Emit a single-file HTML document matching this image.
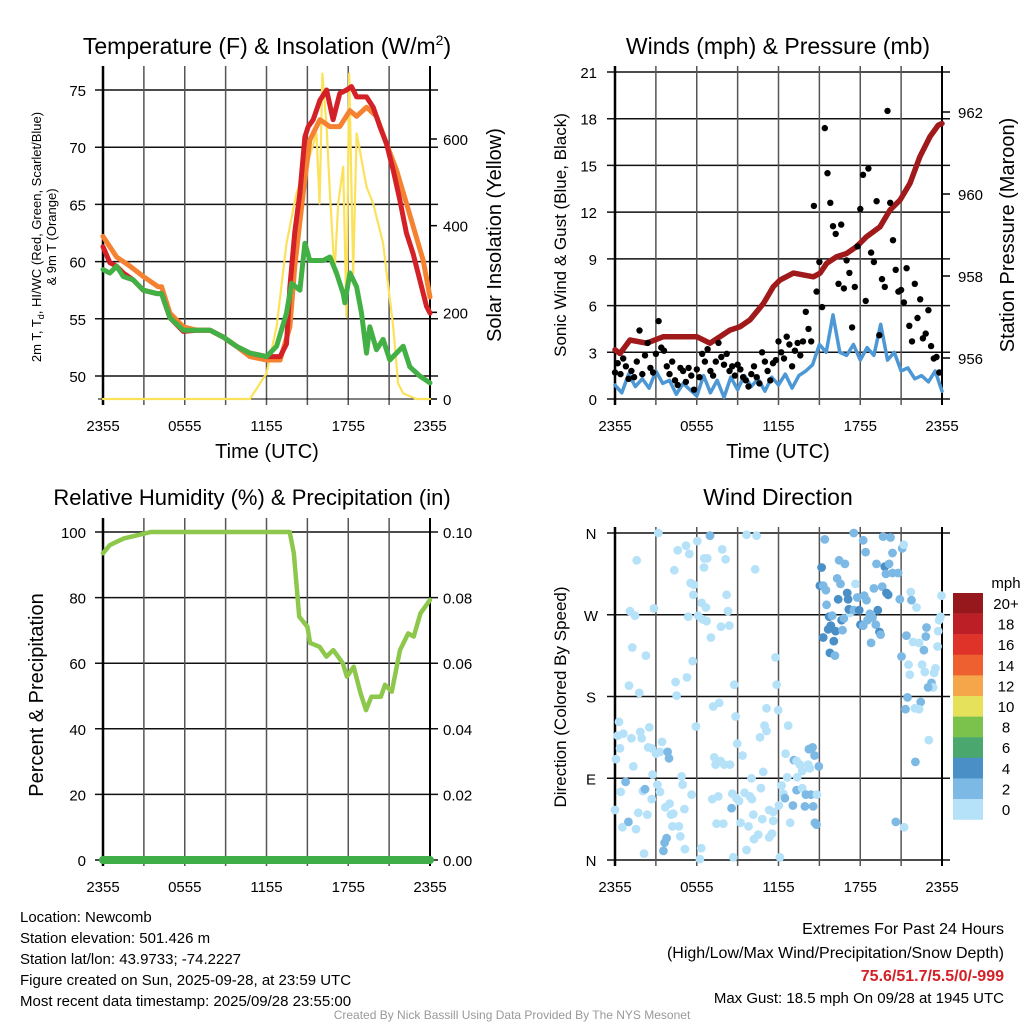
<!DOCTYPE html>
<html><head><meta charset="utf-8"><title>Newcomb Meteogram</title>
<style>
html,body{margin:0;padding:0;background:#fff;}
#wrap{position:relative;width:1024px;height:1024px;overflow:hidden;font-family:"Liberation Sans",Arial,sans-serif;}
svg text{font-family:"Liberation Sans",Arial,sans-serif;fill:#000;}
</style></head>
<body>
<div id="wrap">
<svg id="svg" width="1024" height="1024" viewBox="0 0 1024 1024"></svg>
</div>
<script>
// ---------- DATA ----------
const timeTicks = ["2355","0555","1155","1755","2355"];
const tempTicks = [50,55,60,65,70,75];
const solarTicks = [0,200,400,600];
const windTicks = [0,3,6,9,12,15,18,21];
const presTicks = [956,958,960,962];
const rhTicks = [0,20,40,60,80,100];
const precipTicks = ["0.00","0.02","0.04","0.06","0.08","0.10"];
const dirTicks = ["N","E","S","W","N"];

const redT = [0,0.51,1,1.49,2.22,2.96,3.94,4.3,4.91,5.89,6.87,7.85,8.83,9.8,10.78,12,13,13.47,13.72,14.08,14.45,14.82,15.06,15.43,15.92,16.41,16.89,17.38,17.87,18.24,18.61,19.34,19.83,20.32,20.81,21.3,21.78,22.27,22.76,23.25,23.74,24];
const redV = [61.3,59.9,59.6,59.0,58.4,57.5,57.2,57.2,55.1,53.9,54.0,54.0,53.4,52.6,52.0,51.7,51.7,52.8,57.8,62.6,66.0,70.9,71.8,72.4,74.1,75.0,72.4,74.7,75.0,75.3,74.4,74.4,73.5,71.8,70.3,68.0,65.4,62.5,60.7,58.4,56.1,55.5];
const orangeT = [0,1,1.98,2.96,4.06,4.3,4.91,5.89,6.87,7.85,8.83,9.8,10.78,12,13,13.72,14.08,14.69,15.18,15.92,16.65,17.38,18.12,18.61,19.34,20.07,20.81,21.54,22.27,22.76,23.5,24];
const orangeV = [62.2,60.4,59.6,58.7,57.8,57.8,55.5,54.3,54.0,54.0,53.4,52.6,51.7,51.4,51.4,54.3,59.6,66.0,70.6,72.4,71.8,71.8,73.2,72.7,73.5,72.7,70.3,68.0,65.1,63.1,60.1,56.9];
const greenT = [0,0.51,1,1.49,2.22,2.96,3.94,4.3,4.91,5.89,6.87,7.85,8.83,9.8,10.78,12,12.74,13.47,13.84,14.45,14.82,15.18,16.16,16.65,17.14,17.63,17.75,18.12,18.61,18.97,19.34,19.58,20.07,20.56,21.05,21.54,22.03,22.52,23.25,24];
const greenV = [59.3,59.0,59.6,58.7,58.4,57.5,57.2,57.2,55.1,54.0,54.0,54.0,53.4,52.6,52.0,51.7,52.6,55.5,58.1,57.5,61.6,60.1,60.1,60.4,59.0,57.2,56.4,59.0,57.8,55.5,52.0,54.3,52.3,53.2,51.4,52.0,52.6,50.8,50.0,49.4];
const solarT = [0,10.78,12,12.74,13.47,14.2,14.93,15.3,15.67,15.9,16.1,16.41,16.65,17.0,17.26,17.63,17.87,18.07,18.36,18.61,18.85,19.34,19.83,20.56,21.3,21.66,22.03,23,24];
const solarV = [0,0,59,167,359,475,536,574,613,451,751,628,475,290,451,536,190,751,290,613,574,490,451,359,167,36,13,0,0];

const presT = [0,0.37,1.1,2.32,3.55,4.77,6.0,6.97,7.71,8.44,9.17,9.91,10.89,11.62,12.11,13.09,14.56,15.05,15.54,16.27,17.0,17.74,18.47,19.45,20.18,20.92,21.65,22.38,23.12,23.73,24];
const presV = [956.2,956.11,956.44,956.36,956.52,956.52,956.52,956.36,956.52,956.68,956.76,956.93,957.33,957.74,957.9,958.07,957.98,958.07,958.31,958.47,958.55,958.72,958.96,959.2,959.61,959.85,960.26,960.91,961.4,961.68,961.72];
const sonicV = [0.9,0.4,1.6,0.8,1.3,0.7,1.8,1.0,1.2,0.3,1.0,0.6,0.2,1.5,0.4,1.2,0.1,1.4,0.6,1.5,0.8,1.3,0.5,1.4,0.9,1.6,0.7,1.5,1.8,2.2,3.5,3.0,5.4,3.0,2.8,3.5,2.5,3.3,2.8,4.8,2.5,3.0,1.8,2.0,1.3,1.5,1.1,1.8,0.5];
const gustV = [1.7,2.3,1.6,2.6,2.1,1.3,1.8,1.4,2.4,4.4, 1.6,2.8,3.6,2.0,1.7,2.9,5.0,3.3,3.1,2.1, 1.6,2.4,1.2,0.9,2.0,1.8,1.1,2.0,1.5,0.6, 1.9,1.4,2.9,2.4,3.2,1.8,1.5,2.4,3.6,2.7, 2.2,2.9,1.8,2.1,1.5,2.2,1.9,1.4,1.2,0.8, 1.6,2.1,1.4,1.0,3.0,2.4,1.8,1.2,2.3,2.5, 3.7,3.0,2.6,4.0,3.5,2.1,3.1,3.6,2.8,3.7, 5.6,4.5,3.7,12.4,6.9,8.8,5.9,17.4,14.5,12.6, 11.1,10.6,7.4,11.2,7.1,8.9,8.1,4.6,7.2,9.8, 12.2,14.4,6.3,14.8,9.4,8.8,12.7,4.1,7.7,7.2, 18.5,12.6,10.2,8.3,6.9,7.0,6.2,8.4,4.7,3.7, 7.4,5.2,6.4,3.9,4.2,5.7,3.4,2.6,2.7,1.7];

const rhT = [0,0.5,1,1.5,2.5,3.5,6,9,12,13.7,14.0,14.3,14.4,15.0,15.2,15.9,16.4,16.9,17.6,17.9,18.4,18.9,19.3,19.7,20.4,20.7,21.2,21.8,22.4,22.8,23.3,24];
const rhV = [93.5,96,97,98,99,100,100,100,100,100,93.6,79.3,74.2,71.1,66.2,65.0,62.0,64.0,60.0,55.9,58.9,50.9,45.7,49.8,49.8,53.4,51.3,64.0,69.1,68.1,75.2,79.3];
const precipV = [0,0,0,0,0];

const dirT = [3.18,6.97,9.66,10.39,1.59,4.6,5.21,5.45,6.04,4.35,6.55,6.77,6.53,7.87,8.12,10.29,5.55,5.79,5.75,6.36,6.67,8.19,8.29,2.86,1.1,1.47,5.38,6.11,6.43,6.72,7.78,8.39,7.04,1.27,2.27,5.7,11.78,1.03,1.78,4.45,5.28,4.52,8.75,11.86,7.21,7.65,8.85,11.12,11.98,0.29,0.61,0.2,1.2,1.86,1.96,2.52,5.94,10.98,11.12,12.71,10.64,0.37,2.44,2.69,3.01,3.45,3.3,3.86,3.96,8.97,9.36,0.07,1.34,2.76,4.89,7.29,7.38,7.75,8.02,8.44,10.02,10.88,12.52,13.13,13.33,13.57,13.74,14.18,14.3,14.23,14.5,14.65,14.96,0.78,0.42,2.05,2.2,2.69,3.11,3.3,4.96,5.62,7.14,7.58,8.61,8.92,9.1,9.51,9.9,10.05,10.71,12.22,12.64,13.37,12.35,12.47,13.33,13.74,14.01,14.38,14.82,0,0.98,0.54,1.54,1.71,2.37,3.69,4.01,4.11,4.28,5.09,4.21,4.69,4.79,3.79,3.64,3.55,5.13,2.13,6.33,6.23,7.46,7.95,8.56,9.22,9.8,10.15,10.2,9.66,8.68,10.51,10.81,11.32,11.61,11.61,11.32,11.52,12.03,12.1,12.86,13.06,13.94,14.55,14.67,14.79,
15.4,15.16,15.04,15.28,15.48,15.53,15.72,15.94,15.65,15.84,16.19,16.7,15.28,16.06,15.77,16.14,16.45,16.87,16.31,16.55,16.38,17.04,17.11,16.63,16.8,17.24,17.16,17.53,17.65,17.53,18.22,18.39,17.78,17.92,18.02,18.22,18.29,18.46,18.7,18.53,18.9,18.8,19.0,19.14,19.29,19.41,19.49,19.19,19.61,19.8,19.93,20.05,20.12,19.68,20.22,20.37,20.37,19.88,20.78,20.9,21.08,21.2,21.71,21.76,22.13,21.39,21.88,22.32,22.86,22.81,23.72,23.79,23.89,23.96,23.67,22.67,21.03,21.54,21.64,22.54,22.74,23.52,23.42,23.23,23.35,22.98,21.47,22.44,21.32,22.0,22.32,23.03,22.05,20.61,21.22];
const dirDeg = [360,357,358,357,330,341,346,337,351,319,332,332,322,342,331,320,305,303,292,283,278,292,274,277,274,269,268,269,265,263,257,258,245,234,225,219,223,192,184,196,201,181,193,193,169,173,158,167,165,152,139,137,134,141,134,146,147,148,142,148,135,123,124,123,117,130,119,119,112,128,115,111,103,94,92,113,105,109,105,105,90,97,117,110,109,105,98,105,101,122,124,115,103,86,75,76,78,67,83,75,83,72,67,70,73,68,65,74,70,67,79,82,91,91,73,68,77,79,72,72,72,55,42,36,34,52,50,58,62,50,51,56,37,37,26,24,19,10,12,7,13,1,40,40,57,41,37,50,23,11,3,28,45,55,53,43,25,29,60,3,41,60,59,59,41,39,
353,322,302,302,297,281,268,269,254,258,252,253,245,241,228,225,330,326,310,304,287,294,287,264,266,272,276,275,304,360,352,339,289,275,259,258,291,286,271,264,267,239,299,259,275,251,248,326,301,323,294,292,326,356,355,338,316,315,316,287,343,347,295,286,278,247,240,239,256,246,252,264,268,291,235,231,224,215,204,215,207,211,206,195,190,190,179,174,166,167,166,132,108,42,36];
const dirSpd = [1,3,1,1,1,1,1,1,1,1,1,1,1,1,1,1,1,1,1,1,1,1,1,1,1,1,1,1,1,1,1,1,1,1,1,1,1,1,1,1,1,1,1,1,1,1,1,1,1,1,1,1,1,1,1,1,1,1,1,1,1,1,1,1,1,1,1,3,3,1,1,1,1,1,1,1,1,1,1,1,1,1,1,3,1,1,1,1,1,3,3,3,3,3,1,1,3,1,1,1,1,1,1,1,1,1,1,1,1,1,1,1,1,1,1,3,3,1,3,3,1,1,3,1,1,1,1,1,1,1,1,1,1,1,1,3,3,3,1,1,1,1,1,1,3,1,1,1,1,1,1,1,1,1,1,1,1,1,1,1,1,3,3,3,3,
3,3,4.5,4.5,3,3,3,4.5,3,4.5,4.5,4.5,3,4.5,4.5,4.5,3,3,3,3,3,4.5,4.5,4.5,4.5,3,1,4.5,3,1,3,3,3,3,4.5,4.5,3,3,3,3,3,3,3,3,3,4.5,4.5,3,3,3,4.5,4.5,4.5,3,3,3,3,3,3,3,3,3,1,1,3,1,3,1,1,3,3,1,1,1,1,1,3,3,1,1,1,1,1,1,3,1,3,3,3,3,1,1,1,3,3];

const legendLabels = ["20+","18","16","14","12","10","8","6","4","2","0"];
const legendColors = ["#97181c","#bd1f27","#df3329","#ef6030","#f5a64a","#e5e15b","#7bc24d","#4aa86e","#4a8fc6","#7cb9e4","#b5e2f8"];

// ---------- HELPERS ----------
const NS = "http://www.w3.org/2000/svg";
const svg = document.getElementById("svg");
function mk(tag, attrs, parent){
  const e = document.createElementNS(NS, tag);
  for (const k in attrs) e.setAttribute(k, attrs[k]);
  (parent||svg).appendChild(e);
  return e;
}
function txt(x,y,s,size,anchor,parent,rot){
  const t = mk("text",{x:x,y:y,"font-size":size,"text-anchor":anchor||"middle"},parent);
  if (rot) t.setAttribute("transform","rotate("+rot+" "+x+" "+y+")");
  t.textContent = s;
  return t;
}
function lin(d0,d1,r0,r1){ return v => r0 + (v-d0)/(d1-d0)*(r1-r0); }

const xL = lin(0,24,103,430);
const xR = lin(0,24,615,942);

function frame(name, x0,x1,y0,y1, hGrid, vGridX){
  const g = mk("g",{});
  
  
  hGrid.forEach(y=>{ const l=mk("line",{x1:x0-8,x2:x1+8,y1:y,y2:y,stroke:"#111","stroke-width":1.5},g);   });
  vGridX.forEach(x=>{ const l=mk("line",{x1:x,x2:x,y1:y0-6,y2:y1+6,stroke:"#555","stroke-width":1.5},g);   });
  mk("line",{x1:x0,x2:x0,y1:y0-6,y2:y1+6,stroke:"#000","stroke-width":2.5},g);
  mk("line",{x1:x1,x2:x1,y1:y0-6,y2:y1+6,stroke:"#000","stroke-width":2},g);
  return g;
}
function poly(ts, vs, fx, fy, color, w, name, parent){
  const pts = ts.map((t,i)=>fx(t).toFixed(1)+","+fy(vs[i]).toFixed(1)).join(" ");
  const p = mk("polyline",{points:pts,fill:"none",stroke:color,"stroke-width":w,"stroke-linejoin":"round","stroke-linecap":"round"},parent);
  
  
  return p;
}
function timeLabels(fx, y, name){
  const g = mk("g",{});
  
  
  timeTicks.forEach((s,i)=>txt(fx(i*6), y, s, 15, "middle", g));
}
const vg = [];
for (let h=0; h<=24; h+=3) vg.push(h);

// ---------- PANEL 1: TEMPERATURE ----------
const yT = lin(50,75,376,90);
const yS = lin(0,600,399,139);
frame("temperature-plot", 103,430,72,399, tempTicks.map(yT), vg.map(xL));
solarTicks.forEach(v=>{ mk("line",{x1:430,x2:437,y1:yS(v),y2:yS(v),stroke:"#000","stroke-width":1.5}); });
mk("line",{x1:98,x2:437,y1:399,y2:399,stroke:"#000","stroke-width":1});
const tl = mk("g",{});


tempTicks.forEach(v=>txt(86, yT(v)+6, String(v), 15, "end", tl));
const sl = mk("g",{});


solarTicks.forEach(v=>txt(443, yS(v)+6, String(v), 15, "start", sl));
poly(solarT, solarV, xL, yS, "#fbe25a", 2.2, "solar-insolation-line");
poly(orangeT, orangeV, xL, yT, "#f58231", 5, "temp-9m-line");
poly(redT, redV, xL, yT, "#d42027", 5, "temp-2m-line");
poly(greenT, greenV, xL, yT, "#43b045", 5, "dewpoint-line");
timeLabels(xL, 431, "temperature-time-labels");
const t1 = txt(267, 54, "", 23, "middle");


t1.innerHTML = 'Temperature (F) &amp; Insolation (W/m<tspan dy="-9" font-size="14">2</tspan><tspan dy="9">)</tspan>';
const yl1 = mk("text",{x:0,y:0,"font-size":13,"text-anchor":"middle",transform:"translate(41 237) rotate(-90)"});


yl1.innerHTML = '2m T, T<tspan font-size="9" dy="3">d</tspan><tspan dy="-3">, HI/WC (Red, Green, Scarlet/Blue)</tspan>';
const yl1b = txt(0,0,"& 9m T (Orange)",13,"middle");
yl1b.setAttribute("transform","translate(56 237) rotate(-90)");


const yr1 = txt(0,0,"Solar Insolation (Yellow)",20,"middle");
yr1.setAttribute("transform","translate(501 235) rotate(-90)");


const xt1 = txt(267, 458, "Time (UTC)", 20, "middle");



// ---------- PANEL 2: WINDS ----------
const yW = lin(0,21,399,72);
const yP = lin(956,962,358,112);
frame("winds-plot", 615,942,72,399, windTicks.map(yW), vg.map(xR));
presTicks.forEach(v=>{ mk("line",{x1:942,x2:950,y1:yP(v),y2:yP(v),stroke:"#000","stroke-width":1.5}); });
const wl = mk("g",{});


windTicks.forEach(v=>txt(597, yW(v)+6, String(v), 15, "end", wl));
const pl = mk("g",{});


presTicks.forEach(v=>txt(958, yP(v)+6, String(v), 15, "start", pl));
const sonicT = sonicV.map((v,i)=>i*0.5);
poly(sonicT, sonicV, xR, yW, "#4d98d4", 3.5, "sonic-wind-line");
poly(presT, presV, xR, yP, "#a01a1c", 5.5, "station-pressure-line");
const gg = mk("g",{});


gustV.forEach((v,i)=>{
  const c = mk("circle",{cx:xR(i*0.2).toFixed(1),cy:yW(v).toFixed(1),r:3.2,fill:"#000"},gg);
  
  
});
timeLabels(xR, 431, "winds-time-labels");
const t2 = txt(778, 54, "Winds (mph) & Pressure (mb)", 23, "middle");


const yl2 = txt(0,0,"Sonic Wind & Gust (Blue, Black)",17,"middle");
yl2.setAttribute("transform","translate(566 235) rotate(-90)");


const yr2 = txt(0,0,"Station Pressure (Maroon)",20,"middle");
yr2.setAttribute("transform","translate(1014 235) rotate(-90)");


const xt2 = txt(778, 458, "Time (UTC)", 20, "middle");



// ---------- PANEL 3: RH ----------
const yH = lin(0,100,860,532);
frame("humidity-plot", 103,430,524,860, rhTicks.map(yH), vg.map(xL));
const hl = mk("g",{});


rhTicks.forEach(v=>txt(86, yH(v)+6, String(v), 15, "end", hl));
const prl = mk("g",{});


precipTicks.forEach((s,i)=>txt(443, yH(i*20)+6, s, 15, "start", prl));
poly(rhT, rhV, xL, yH, "#8dc84c", 4.5, "relative-humidity-line");
const yPr = lin(0,0.1,860,532);
poly(precipV.map((v,i)=>i*6), precipV, xL, yPr, "#3fae49", 8, "precipitation-line");
timeLabels(xL, 892, "humidity-time-labels");
const t3 = txt(252, 505, "Relative Humidity (%) & Precipitation (in)", 22, "middle");


const yl3 = txt(0,0,"Percent & Precipitation",20,"middle");
yl3.setAttribute("transform","translate(43 695) rotate(-90)");



// ---------- PANEL 4: WIND DIRECTION ----------
const yD = lin(0,360,860,533);
frame("direction-plot", 615,942,533,860, [0,90,180,270,360].map(yD), vg.map(xR));
const dl = mk("g",{});


dirTicks.forEach((s,i)=>txt(591, yD(i*90)+6, s, 15, "middle", dl));
function spdColor(s){ return s>=4 ? "#4a8fc6" : (s>=2 ? "#7cb9e4" : "#b5e2f8"); }
const dg = mk("g",{});


dirT.forEach((t,i)=>{
  const c = mk("circle",{cx:xR(t).toFixed(1),cy:yD(dirDeg[i]).toFixed(1),r:4.4,fill:spdColor(dirSpd[i])},dg);
  
  
});
timeLabels(xR, 892, "direction-time-labels");
const t4 = txt(778, 505, "Wind Direction", 23, "middle");


const yl4 = txt(0,0,"Direction (Colored By Speed)",17,"middle");
yl4.setAttribute("transform","translate(566 697) rotate(-90)");



const lg = mk("g",{});


txt(1006, 588, "mph", 15, "middle", lg);
legendLabels.forEach((s,i)=>{
  const r = mk("rect",{x:953,y:593+i*20.6,width:30,height:20.8,fill:legendColors[i]},lg);
  
  
  txt(1006, 593+i*20.6+16, s, 15, "middle", lg);
});

// ---------- FOOTER ----------
const fl = mk("g",{});


["Location: Newcomb","Station elevation: 501.426 m","Station lat/lon: 43.9733; -74.2227","Figure created on Sun, 2025-09-28, at 23:59 UTC","Most recent data timestamp: 2025/09/28 23:55:00"].forEach((s,i)=>txt(20, 922+i*21, s, 15, "start", fl));
const fr = mk("g",{});


txt(1004, 934, "Extremes For Past 24 Hours", 16, "end", fr);
txt(1004, 958, "(High/Low/Max Wind/Precipitation/Snow Depth)", 16, "end", fr);
const ex = txt(1004, 981, "75.6/51.7/5.5/0/-999", 16, "end", fr);
ex.setAttribute("font-weight","bold");
ex.setAttribute("style","fill:#d42027");
txt(1004, 1003, "Max Gust: 18.5 mph On 09/28 at 1945 UTC", 15, "end", fr);
const cr = txt(512, 1019, "Created By Nick Bassill Using Data Provided By The NYS Mesonet", 12, "middle");
cr.setAttribute("style","fill:#999");


</script>
</body></html>
